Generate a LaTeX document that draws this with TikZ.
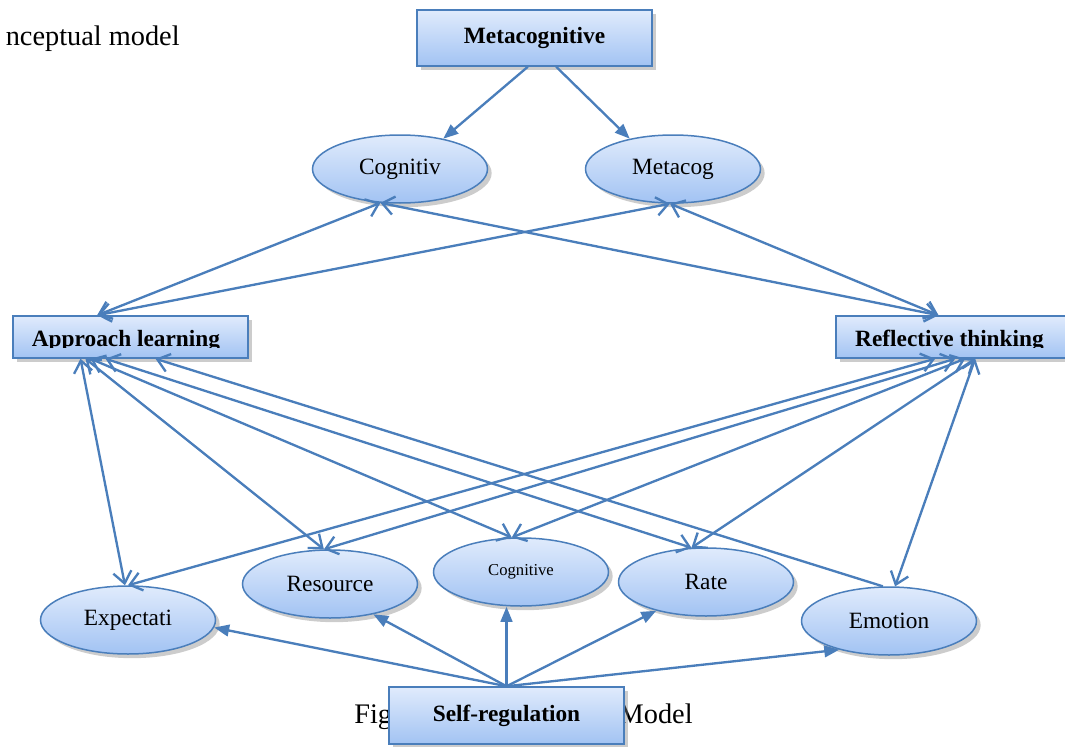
\documentclass[tikz,border=0pt]{standalone}
\usepackage{fontspec}
\setmainfont{Liberation Serif}
\usetikzlibrary{arrows.meta, shapes.geometric, shadows}
\definecolor{edge}{RGB}{74,126,187}
\definecolor{filltop}{RGB}{224,235,252}
\definecolor{fillbot}{RGB}{162,195,243}
\tikzset{
  bluefill/.style={top color=filltop, bottom color=fillbot, draw=edge, line width=0.9pt,
    drop shadow={shadow xshift=2.5pt, shadow yshift=-2.5pt, opacity=.4}},
  concept/.style={bluefill, rectangle, minimum width=141pt, inner sep=0pt,
    font=\fontsize{14}{16}\selectfont\bfseries},
  boxtext/.style={inner sep=0pt, font=\fontsize{14}{16}\selectfont\bfseries},
  factor/.style={bluefill, ellipse, minimum width=105pt, minimum height=40.8pt, inner sep=0pt,
    font=\fontsize{14}{16}\selectfont},
  figtext/.style={inner sep=0pt, font=\fontsize{17}{20}\selectfont},
  link/.style={edge, line width=1.4pt,
    {Straight Barb[length=7pt,width=11pt]}-{Straight Barb[length=7pt,width=11pt]}},
  single/.style={edge, line width=1.4pt, -{Straight Barb[length=7pt,width=11pt]}},
  push/.style={edge, line width=1.4pt, -{Triangle[length=9pt,width=7pt]}},
}

\begin{document}
\begin{tikzpicture}[x=0.6pt, y=-0.6pt]
\useasboundingbox (0,0) rectangle (1065,747);
\clip (0,0) rectangle (1065,747);

% caption and title, partly hidden
\node[figtext, anchor=base east] (title) at (180,45) {nceptual model};
\node[figtext, anchor=base west] (figword) at (354,723) {Fig};
\node[figtext, anchor=base east] (modelword) at (693,723) {Model};

% boxes
\node[concept, minimum height=33.6pt] (meta) at (534.5,38) {Metacognitive};
\node[concept, minimum height=25.2pt] (al) at (130.5,337) {};
\node[concept, minimum height=25.2pt] (rt) at (953.5,337) {};
\node[concept, minimum height=34.2pt] (sr) at (506.5,715.5) {Self-regulation};

% box texts cut at the bottom
\begin{scope}
  \clip (13,316) rectangle (248,347);
  \node[boxtext, anchor=base] (altext) at (126,346) {Approach learning};
\end{scope}
\begin{scope}
  \clip (836,316) rectangle (1071,347);
  \node[boxtext, anchor=base] (rttext) at (949.5,346) {Reflective thinking};
\end{scope}

% ellipses
\node[factor] (cog) at (400,169) {Cognitiv};
\node[factor] (mc) at (673,169) {Metacog};
\node[factor] (exp) at (128,620) {Expectati};
\node[factor] (res) at (330,584) {Resource};
\node[factor, font=\fontsize{10}{12}\selectfont] (cogv) at (521,572) {Cognitive};
\node[factor] (rate) at (706,582) {Rate};
\node[factor] (emo) at (889,621) {Emotion};

% top level
\draw[push] ([xshift=-4pt]meta.south) -- (cog.35);
\draw[push] ([xshift=13pt]meta.south) -- (mc.145);

\draw[link] (cog.240) -- ([xshift=-20pt]al.north);
\draw[link] (mc.265) -- ([xshift=-20pt]al.north);
\draw[link] (cog.240) -- ([xshift=-9pt]rt.north);
\draw[link] (mc.265) -- ([xshift=-9pt]rt.north);

% approach learning
\draw[link] ([xshift=-30pt]al.south) -- (exp.95);
\draw[link] ([xshift=-27pt]al.south) -- (res.100);
\draw[link] ([xshift=-24pt]al.south) -- (cogv.105);
\draw[link] ([xshift=-15pt]al.south) -- (rate.113);
\draw[single] (emo.100) -- ([xshift=15pt]al.south);

% reflective thinking
\draw[link] ([xshift=-11pt]rt.south) -- (exp.90);
\draw[link] ([xshift=1pt]rt.south) -- (res.100);
\draw[link] ([xshift=7pt]rt.south) -- (cogv.105);
\draw[link] ([xshift=13pt]rt.south) -- (rate.113);
\draw[link] ([xshift=13pt]rt.south) -- (emo.80);

% self-regulation
\draw[push] (sr.north) -- (exp.-5);
\draw[push] (sr.north) -- (res.-35);
\draw[push] (sr.north) -- (cogv.south -| sr.north);
\draw[push] (sr.north) -- (rate.210);
\draw[push] (sr.north) -- (emo.210);
\end{tikzpicture}
\end{document}
